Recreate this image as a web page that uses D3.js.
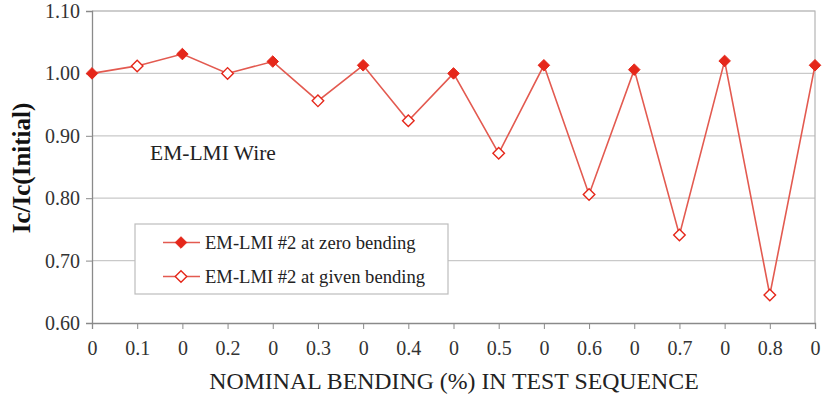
<!DOCTYPE html>
<html>
<head>
<meta charset="utf-8">
<script src="https://cdn.jsdelivr.net/npm/d3@7"></script>
<style>
  html, body { margin: 0; padding: 0; background: #fff; }
</style>
</head>
<body>
<svg id="chart" width="822" height="406"></svg>
<script>
// Test sequence: bending strain applied at each step (0 = measured straight)
const bendingLabels = ["0","0.1","0","0.2","0","0.3","0","0.4","0","0.5","0","0.6","0","0.7","0","0.8","0"];
// Ic/Ic(initial) measured at zero bending (even steps)
const zeroBending = [1.000, 1.031, 1.019, 1.013, 1.000, 1.013, 1.006, 1.020, 1.013];
// Ic/Ic(initial) measured at the given bending (odd steps)
const givenBending = [1.012, 1.000, 0.956, 0.924, 0.872, 0.806, 0.741, 0.645];
const yTicks = [0.60, 0.70, 0.80, 0.90, 1.00, 1.10];

const seq = bendingLabels.map((lab, i) => ({
  i, lab,
  zero: i % 2 === 0,
  v: i % 2 === 0 ? zeroBending[i / 2] : givenBending[(i - 1) / 2]
}));

const svg = d3.select("#chart");
const m = { left: 92, right: 815, top: 11, bottom: 323 };

const x = d3.scalePoint().domain(d3.range(bendingLabels.length)).range([m.left, m.right]);
const y = d3.scaleLinear().domain([0.60, 1.10]).range([m.bottom, m.top]);

const red = "#e5271a";
const lineRed = "#e35a50";

// gridlines
svg.append("g").selectAll("line").data(yTicks.filter(t => t > 0.6)).join("line")
  .attr("x1", m.left).attr("x2", m.right)
  .attr("y1", d => y(d)).attr("y2", d => y(d))
  .attr("stroke", "#c9c9c9").attr("stroke-width", 1.2);

// plot frame (top and right)
svg.append("path")
  .attr("d", `M${m.left},${m.top}H${m.right}V${m.bottom}`)
  .attr("fill", "none").attr("stroke", "#b5b5b5").attr("stroke-width", 1.2);

// y axis
const yAxis = d3.axisLeft(y).tickValues(yTicks).tickFormat(d3.format(".2f")).tickSize(6).tickPadding(6);
const gy = svg.append("g").attr("transform", `translate(${m.left},0)`).call(yAxis);
gy.select(".domain").attr("stroke", "#8a8a8a").attr("stroke-width", 1.3);
gy.selectAll(".tick line").attr("stroke", "#8a8a8a");
gy.selectAll(".tick text").attr("fill", "#333").style("font-size", "20px");

// x axis
const xAxis = d3.axisBottom(x).tickFormat(i => bendingLabels[i]).tickSize(6).tickPadding(12);
const gx = svg.append("g").attr("transform", `translate(0,${m.bottom})`).call(xAxis);
gx.select(".domain").attr("stroke", "#8a8a8a").attr("stroke-width", 1.3);
gx.selectAll(".tick line").attr("stroke", "#8a8a8a");
gx.selectAll(".tick text").attr("fill", "#333").style("font-size", "20px");

// data line through the whole sequence
const line = d3.line().x(d => x(d.i)).y(d => y(d.v));
svg.append("path").datum(seq).attr("d", line)
  .attr("fill", "none").attr("stroke", lineRed).attr("stroke-width", 1.6);

const diamond = d3.symbol().type(d3.symbolDiamond2).size(85);
svg.append("g").selectAll("path").data(seq).join("path")
  .attr("transform", d => `translate(${x(d.i)},${y(d.v)})`)
  .attr("d", diamond)
  .attr("fill", d => d.zero ? red : "#fff")
  .attr("stroke", red).attr("stroke-width", d => d.zero ? 1 : 1.4);

// annotation
svg.append("text").attr("x", 150).attr("y", 160).style("font-size", "21.5px").attr("fill", "#222").text("EM-LMI Wire");

// legend
const lg = svg.append("g");
lg.append("rect").attr("x", 135).attr("y", 224).attr("width", 313).attr("height", 70)
  .attr("fill", "#fff").attr("stroke", "#bdbdbd").attr("stroke-width", 1.2);
const legendItems = [
  { label: "EM-LMI #2 at zero bending", zero: true, cy: 242.5 },
  { label: "EM-LMI #2 at given bending", zero: false, cy: 276.5 }
];
legendItems.forEach(it => {
  lg.append("line").attr("x1", 163).attr("x2", 200).attr("y1", it.cy).attr("y2", it.cy)
    .attr("stroke", lineRed).attr("stroke-width", 1.6);
  lg.append("path").attr("transform", `translate(181,${it.cy})`).attr("d", diamond)
    .attr("fill", it.zero ? red : "#fff").attr("stroke", red).attr("stroke-width", it.zero ? 1 : 1.4);
  lg.append("text").attr("x", 205).attr("y", it.cy + 6).style("font-size", "18.6px").attr("fill", "#222").text(it.label);
});

// axis titles
svg.append("text").attr("x", 454).attr("y", 389).attr("text-anchor", "middle")
  .style("font-size", "23.8px").attr("fill", "#222").text("NOMINAL BENDING (%) IN TEST SEQUENCE");
svg.append("text").attr("transform", "translate(30,168) rotate(-90)").attr("text-anchor", "middle")
  .style("font-size", "25px").style("font-weight", "bold").attr("fill", "#111").text("Ic/Ic(Initial)");

// serif face for every label
svg.selectAll("text").style("font-family", '"Liberation Serif"');
</script>
</body>
</html>
